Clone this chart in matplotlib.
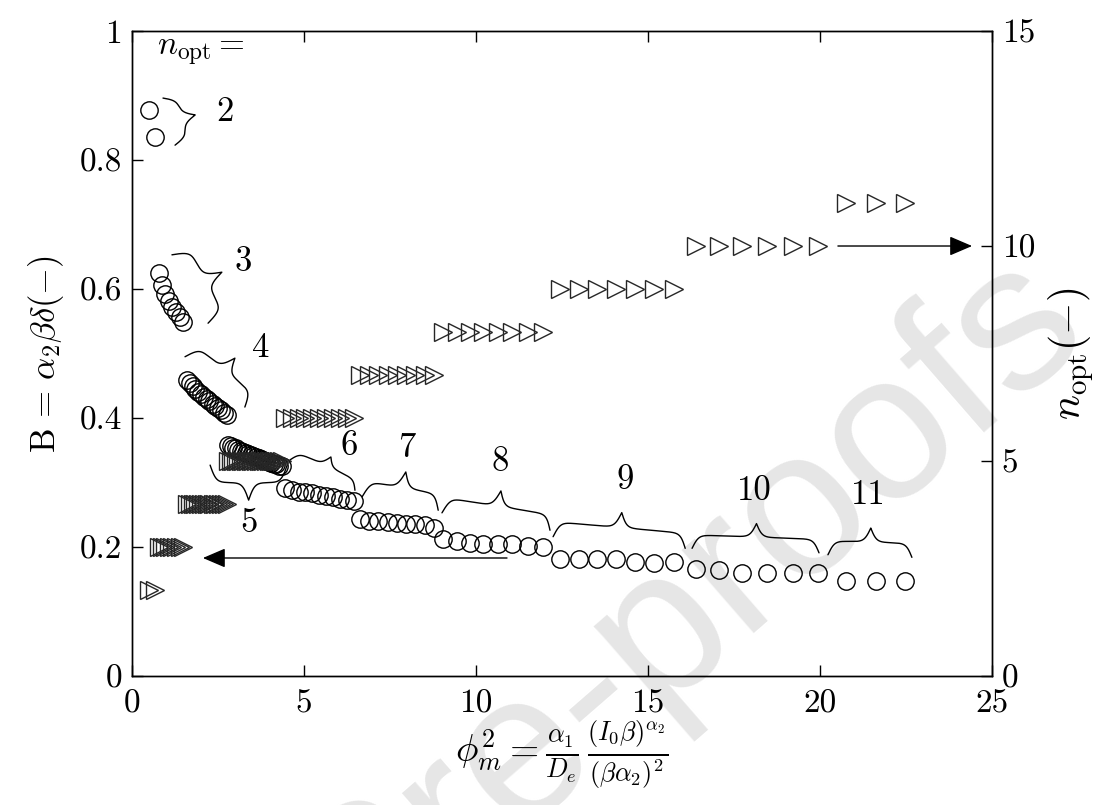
import numpy as np
import matplotlib
matplotlib.use('Agg')
import matplotlib.pyplot as plt

# phi_m^2 and B for each optimal number of stages
phi_n2 = [0.49, 0.67]
b_n2 = [0.877, 0.836]
phi_n3 = [0.78, 0.87, 0.97, 1.07, 1.17, 1.28, 1.38, 1.48]
b_n3 = [0.625, 0.606, 0.593, 0.582, 0.572, 0.564, 0.556, 0.549]
phi_n4 = [1.60, 1.68, 1.76, 1.84, 1.93, 2.01, 2.09, 2.17, 2.25, 2.34, 2.42, 2.50, 2.59, 2.67, 2.76]
b_n4 = [0.459, 0.454, 0.449, 0.445, 0.441, 0.437, 0.433, 0.429, 0.426, 0.422, 0.419, 0.416, 0.412, 0.408, 0.405]
phi_n5 = [2.80, 2.87, 2.94, 3.02, 3.09, 3.16, 3.24, 3.31, 3.38, 3.46, 3.53,
		  3.60, 3.68, 3.75, 3.82, 3.90, 3.97, 4.04, 4.12, 4.19, 4.27, 4.35]
b_n5 = [0.358, 0.356, 0.354, 0.353, 0.351, 0.349, 0.348, 0.346, 0.344, 0.343, 0.341,
		0.340, 0.338, 0.337, 0.335, 0.334, 0.332, 0.331, 0.329, 0.328, 0.326, 0.325]
phi_n6 = [4.45, 4.64, 4.84, 5.04, 5.24, 5.44, 5.64, 5.84, 6.04, 6.24, 6.44]
b_n6 = [0.291, 0.288, 0.286, 0.285, 0.283, 0.281, 0.279, 0.277, 0.275, 0.273, 0.271]
phi_n7 = [6.62, 6.89, 7.16, 7.43, 7.70, 7.97, 8.24, 8.51, 8.78]
b_n7 = [0.244, 0.241, 0.240, 0.239, 0.238, 0.236, 0.235, 0.234, 0.229]
phi_n8 = [9.05, 9.45, 9.83, 10.21, 10.63, 11.05, 11.50, 11.95]
b_n8 = [0.212, 0.210, 0.206, 0.205, 0.205, 0.204, 0.201, 0.200]
phi_n9 = [12.45, 12.98, 13.52, 14.06, 14.62, 15.18, 15.76]
b_n9 = [0.182, 0.182, 0.182, 0.181, 0.177, 0.176, 0.177]
phi_n10 = [16.40, 17.05, 17.72, 18.47, 19.20, 19.93]
b_n10 = [0.166, 0.165, 0.160, 0.160, 0.160, 0.160]
phi_n11 = [20.75, 21.62, 22.48]
b_n11 = [0.148, 0.148, 0.148]

n_opt_values = [2, 3, 4, 5, 6, 7, 8, 9, 10, 11]

b_ticks = [0, 0.2, 0.4, 0.6, 0.8, 1]
b_ticklabels = ['0', '0.2', '0.4', '0.6', '0.8', '1']
n_ticks = [0, 5, 10, 15]
phi_ticks = [0, 5, 10, 15, 20, 25]

plt.rcParams['mathtext.fontset'] = 'cm'
plt.rcParams['font.family'] = 'serif'
plt.rcParams['font.serif'] = ['cmr10']
plt.rcParams['axes.unicode_minus'] = False
plt.rcParams['axes.formatter.use_mathtext'] = True


def brace(ax, p1, p2, depth, lw=1.0) -> None:
	# curly brace from p1 to p2 (data coords), tip on the left of p1->p2, depth in pixels
	a = ax.transData.transform(p1)
	b = ax.transData.transform(p2)
	d = b - a
	length = np.hypot(*d)
	u = d / length
	v = np.array([-u[1], u[0]])
	n = 401
	t = np.linspace(0, 1, n)
	beta = 0.33 * length
	th = t[:n // 2 + 1]
	yh = 1 / (1 + np.exp(-beta * (th - th[0]))) + 1 / (1 + np.exp(-beta * (th - th[-1])))
	y = np.concatenate((yh, yh[-2::-1])) - 0.5
	pts = a + np.outer(t * length, u) + np.outer(y * depth, v)
	pts = ax.transData.inverted().transform(pts)
	ax.plot(pts[:, 0], pts[:, 1], color='k', lw=lw, solid_capstyle='round')


def main() -> None:
	fig = plt.figure(figsize=(11.03, 8.05), dpi=100)
	fig.subplots_adjust(left=0.1197, right=0.8994, bottom=0.1602, top=0.9615)
	ax = fig.add_subplot(111)
	ax.set_facecolor('none')
	ax2 = ax.twinx()

	ax.set_xlim(0, 25)
	ax.set_ylim(0, 1)
	ax2.set_ylim(0, 15)

	fig.text(0.623, 0.249, 'Pre-proofs', rotation=41, rotation_mode='anchor',
			 ha='center', va='center', fontsize=150, color='#e6e6e6',
			 family='Liberation Sans', zorder=-5)

	phis = [phi_n2, phi_n3, phi_n4, phi_n5, phi_n6, phi_n7, phi_n8, phi_n9, phi_n10, phi_n11]
	bs = [b_n2, b_n3, b_n4, b_n5, b_n6, b_n7, b_n8, b_n9, b_n10, b_n11]
	for phi, b, n in zip(phis, bs, n_opt_values):
		ax.plot(phi, b, 'o', ms=12.5, mfc='none', mec='k', mew=1.0)
		ax2.plot(phi, np.full(len(phi), n), '>', ms=12.5, mfc='none', mec='0.15', mew=1.0)

	ax.set_xticks(phi_ticks)
	ax.set_xticklabels([str(v) for v in phi_ticks])
	ax.set_yticks(b_ticks)
	ax.set_yticklabels(b_ticklabels)
	ax2.set_yticks(n_ticks)
	ax2.set_yticklabels([str(v) for v in n_ticks])
	ax.tick_params(direction='in', length=8, width=1, labelsize=24, pad=7, top=True)
	ax.tick_params(axis='x', pad=10)
	ax2.tick_params(direction='in', length=8, width=1, labelsize=24, pad=7)
	for a in (ax, ax2):
		for s in a.spines.values():
			s.set_linewidth(1.0)

	ax.set_xlabel(r'$\phi_m^2 = \frac{\alpha_1}{D_e}\,\frac{(I_0\beta)^{\alpha_2}}{(\beta\alpha_2)^2}$',
				  fontsize=27, labelpad=0)
	ax.set_ylabel(r'$\mathrm{B}\,=\,\alpha_2\beta\delta(-)$', fontsize=25, labelpad=10)
	ax2.set_ylabel(r'$n_{\mathrm{opt}}(-)$', fontsize=30, labelpad=8)

	# braces grouping the points by n_opt
	brace(ax, (0.90, 0.896), (1.25, 0.823), 27)
	brace(ax, (1.16, 0.653), (2.21, 0.547), 36)
	brace(ax, (1.54, 0.495), (3.28, 0.417), 31)
	brace(ax, (4.51, 0.327), (2.27, 0.327), 35)
	brace(ax, (4.59, 0.335), (6.48, 0.288), 20)
	brace(ax, (6.69, 0.278), (8.90, 0.257), 32)
	brace(ax, (9.01, 0.253), (12.15, 0.226), 31)
	brace(ax, (12.24, 0.216), (16.08, 0.198), 30)
	brace(ax, (16.28, 0.198), (19.97, 0.191), 27)
	brace(ax, (20.23, 0.188), (22.67, 0.184), 28)

	label_pos = [(2.70, 0.874), (3.23, 0.642), (3.75, 0.509), (3.40, 0.237), (6.31, 0.357),
				 (7.99, 0.353), (10.70, 0.332), (14.33, 0.304), (18.08, 0.287), (21.40, 0.281)]
	for (x, y), n in zip(label_pos, n_opt_values):
		ax.text(x, y, str(n), fontsize=25, ha='center', va='center')
	ax.text(2.0, 0.966, r'$n_{\mathrm{opt}} =$', fontsize=24, ha='center', va='center')

	arrow = dict(arrowstyle='-|>,head_length=0.7,head_width=0.3', color='k', lw=1.0,
				 mutation_scale=20, shrinkA=0, shrinkB=0)
	ax.annotate('', xy=(2.06, 0.183), xytext=(10.9, 0.183), arrowprops=arrow)
	ax2.annotate('', xy=(24.42, 10.0), xytext=(20.52, 10.0), arrowprops=arrow)

	fig.savefig('out.png', dpi=100)


if __name__ == '__main__':
	main()
